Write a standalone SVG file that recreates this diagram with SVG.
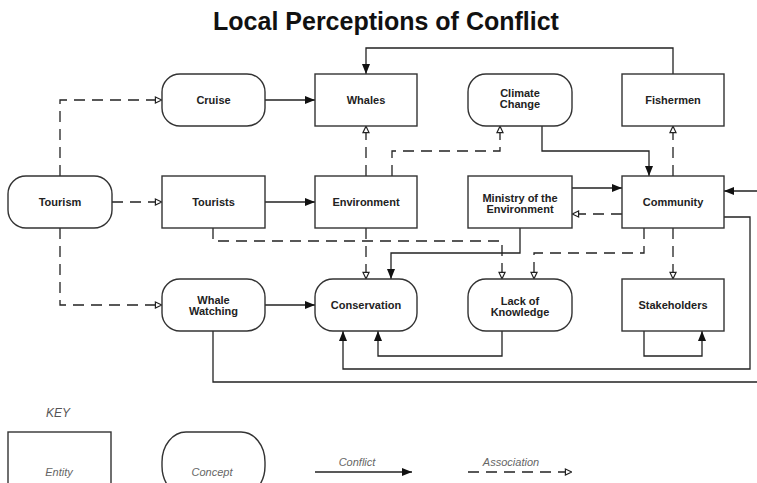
<svg xmlns="http://www.w3.org/2000/svg" width="757" height="483" viewBox="0 0 757 483">
<style>
.box{fill:#fff;stroke:#333;stroke-width:1.4}
.lbl{font-family:"Liberation Sans",Arial,sans-serif;font-weight:bold;font-size:11px;fill:#222;text-anchor:middle}
.key{font-family:"Liberation Sans",Arial,sans-serif;font-style:italic;font-size:11px;fill:#666;text-anchor:middle}
.solid{fill:none;stroke:#222;stroke-width:1.3}
.dash{fill:none;stroke:#222;stroke-width:1.3;stroke-dasharray:11,7}
</style>
<defs>
<marker id="ah" viewBox="0 0 10 8" refX="10" refY="4" markerWidth="10" markerHeight="8" orient="auto" markerUnits="userSpaceOnUse"><path d="M0,0 L10,4 L0,8 z" fill="#111"/></marker>
<marker id="oh" viewBox="0 0 8 8" refX="7.6" refY="4" markerWidth="8" markerHeight="8" orient="auto" markerUnits="userSpaceOnUse"><path d="M1,1 L7.4,4 L1,7 z" fill="#fff" stroke="#222" stroke-width="1.2"/></marker>
</defs>
<rect width="757" height="483" fill="#fff"/>
<text x="386" y="30" font-family="'Liberation Sans',Arial,sans-serif" font-weight="bold" font-size="25" text-anchor="middle" fill="#111">Local Perceptions of Conflict</text>

<g id="connectors">
<path class="dash" d="M60,176 V100 H162" marker-end="url(#oh)"/>
<path class="dash" d="M112,202 H162" marker-end="url(#oh)"/>
<path class="dash" d="M60,228 V305 H162" marker-end="url(#oh)"/>
<path class="solid" d="M265,100 H315" marker-end="url(#ah)"/>
<path class="solid" d="M265,202 H315" marker-end="url(#ah)"/>
<path class="solid" d="M265,305 H315" marker-end="url(#ah)"/>
<path class="dash" d="M366,176 V126" marker-end="url(#oh)"/>
<path class="dash" d="M392,176 V151 H500 V126" marker-end="url(#oh)"/>
<path class="solid" d="M542,126 V151 H649 V176" marker-end="url(#ah)"/>
<path class="dash" d="M673,176 V126" marker-end="url(#oh)"/>
<path class="solid" d="M673,74 V48 H366 V74" marker-end="url(#ah)"/>
<path class="solid" d="M572,188 H622" marker-end="url(#ah)"/>
<path class="dash" d="M622,214 H572" marker-end="url(#oh)"/>
<path class="solid" d="M213,331 V382 H764 V191 H724" marker-end="url(#ah)"/>
<path class="solid" d="M724,217 H750 V369 H343 V331" marker-end="url(#ah)"/>
<path class="solid" d="M502,331 V356 H378 V331" marker-end="url(#ah)"/>
<path class="solid" d="M644,331 V356 H702 V331" marker-end="url(#ah)"/>
<path class="solid" d="M520,228 V253 H391 V279" marker-end="url(#ah)"/>
<path class="dash" d="M213,228 V241 H502 V279" marker-end="url(#oh)"/>
<path class="dash" d="M366,228 V279" marker-end="url(#oh)"/>
<path class="dash" d="M644,228 V253 H534 V279" marker-end="url(#oh)"/>
<path class="dash" d="M673,228 V279" marker-end="url(#oh)"/>
</g>

<g id="tourism"><rect class="box" x="8" y="176" width="104" height="52" rx="18" ry="18"/><text class="lbl" x="60" y="206">Tourism</text></g>
<g id="cruise"><rect class="box" x="162" y="74" width="103" height="52" rx="18" ry="18"/><text class="lbl" x="213.5" y="104">Cruise</text></g>
<g id="tourists"><rect class="box" x="162" y="176" width="103" height="52"/><text class="lbl" x="213.5" y="206">Tourists</text></g>
<g id="whale-watching"><rect class="box" x="162" y="279" width="103" height="52" rx="18" ry="18"/><text class="lbl" x="213.5" y="304">Whale</text><text class="lbl" x="213.5" y="315">Watching</text></g>
<g id="whales"><rect class="box" x="315" y="74" width="102" height="52"/><text class="lbl" x="366" y="104">Whales</text></g>
<g id="environment"><rect class="box" x="315" y="176" width="102" height="52"/><text class="lbl" x="366" y="206">Environment</text></g>
<g id="conservation"><rect class="box" x="315" y="279" width="102" height="52" rx="18" ry="18"/><text class="lbl" x="366" y="309">Conservation</text></g>
<g id="climate-change"><rect class="box" x="468" y="74" width="104" height="52" rx="18" ry="18"/><text class="lbl" x="520" y="97">Climate</text><text class="lbl" x="520" y="108">Change</text></g>
<g id="ministry"><rect class="box" x="468" y="176" width="104" height="52"/><text class="lbl" x="520" y="202">Ministry of the</text><text class="lbl" x="520" y="213">Environment</text></g>
<g id="lack-of-knowledge"><rect class="box" x="468" y="279" width="104" height="52" rx="18" ry="18"/><text class="lbl" x="520" y="305">Lack of</text><text class="lbl" x="520" y="316">Knowledge</text></g>
<g id="fishermen"><rect class="box" x="622" y="74" width="102" height="52"/><text class="lbl" x="673" y="104">Fishermen</text></g>
<g id="community"><rect class="box" x="622" y="176" width="102" height="52"/><text class="lbl" x="673" y="206">Community</text></g>
<g id="stakeholders"><rect class="box" x="622" y="279" width="102" height="52"/><text class="lbl" x="673" y="309">Stakeholders</text></g>

<g id="key">
<text x="58" y="417" font-family="'Liberation Sans',Arial,sans-serif" font-style="italic" font-size="12" fill="#555" text-anchor="middle">KEY</text>
<rect class="box" x="8" y="432" width="103" height="64"/>
<text class="key" x="59" y="476">Entity</text>
<rect class="box" x="162" y="432" width="103" height="64" rx="24" ry="30"/>
<text class="key" x="212" y="476">Concept</text>
<path class="solid" d="M315,472 H412" marker-end="url(#ah)"/>
<text class="key" x="357" y="466">Conflict</text>
<path class="dash" d="M468,472 H572" marker-end="url(#oh)"/>
<text class="key" x="511" y="466">Association</text>
</g>
</svg>
